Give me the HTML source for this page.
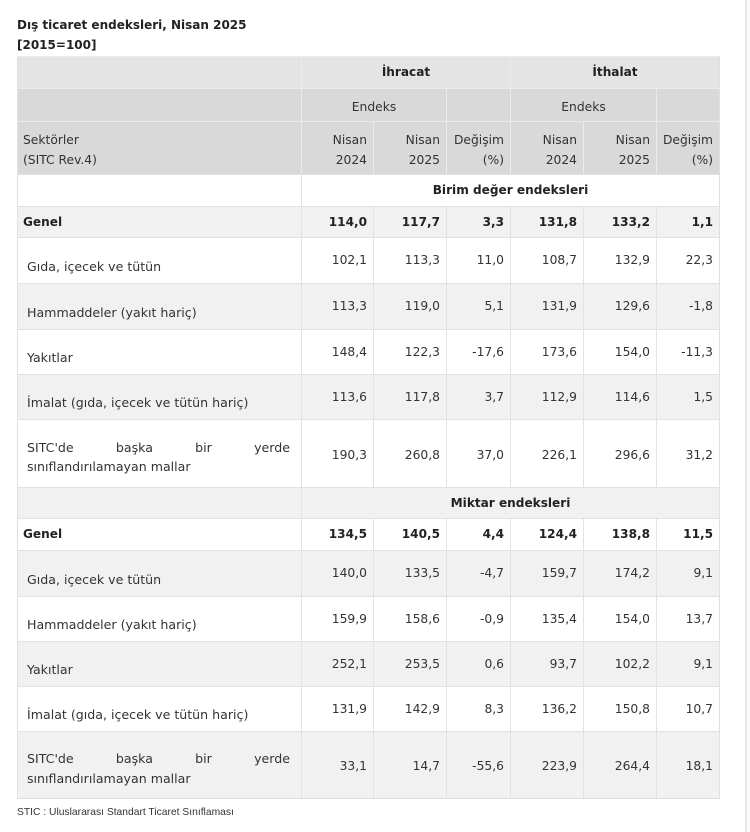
<!DOCTYPE html>
<html><head><meta charset="utf-8">
<style>
html,body{margin:0;padding:0;background:#fff;}
body{width:750px;height:832px;position:relative;overflow:hidden;font-family:"DejaVu Sans","Liberation Sans",sans-serif;color:#333;}
.title{position:absolute;left:17px;top:16px;font-weight:bold;font-size:12px;line-height:19.5px;color:#222;}
.row{position:absolute;left:17px;width:703px;box-sizing:border-box;border-left:1px solid #e0e0e0;border-right:1px solid #e0e0e0;border-top:1px solid #e2e2e2;font-size:12.3px;line-height:15px;}
.hd{border-top-color:#ebebeb;}
.c{position:absolute;top:0;bottom:0;display:flex;align-items:center;justify-content:flex-end;padding-right:6px;box-sizing:border-box;border-left:1px solid #e2e2e2;white-space:nowrap;}
.hd .c{border-left-color:#ebebeb;}
.l{position:absolute;top:0;bottom:0;left:0;width:283px;display:flex;align-items:center;padding-left:5px;box-sizing:border-box;}
.sl{padding-left:9px;padding-right:11px;padding-top:11px;font-size:12.6px;}
.c1{left:283px;width:72px}.c2{left:355px;width:73px}.c3{left:428px;width:64px}
.c4{left:492px;width:73px}.c5{left:565px;width:73px}.c6{left:638px;width:63px}
.ctr{justify-content:center;padding-right:0;}
.b{font-weight:bold;font-size:12.1px;color:#222;}
.g{background:#f1f1f1;}
.two{line-height:20px;}
.sitc{width:263px;line-height:19.5px;}
.just{text-align:justify;text-align-last:justify;}
.foot{position:absolute;left:17px;top:807px;font-family:"Liberation Sans",sans-serif;font-size:10.3px;line-height:12px;color:#333;}
.sb{position:absolute;left:745px;top:0;width:2px;height:832px;background:#e8e8e8;}
.sb2{position:absolute;left:747px;top:0;width:3px;height:832px;background:#fafafa;}
</style></head><body>
<div class="title">Dış ticaret endeksleri, Nisan 2025<br>[2015=100]</div>

<div class="row hd" style="top:56px;height:32px;background:#e4e4e4;">
  <div class="c ctr b" style="left:283px;width:209px;">İhracat</div>
  <div class="c ctr b" style="left:492px;width:209px;">İthalat</div>
</div>
<div class="row hd" style="top:88px;height:33px;background:#d9d9d9;">
  <div class="c ctr" style="left:283px;width:145px;padding-top:4px;">Endeks</div>
  <div class="c" style="left:428px;width:64px;"></div>
  <div class="c ctr" style="left:492px;width:146px;padding-top:4px;">Endeks</div>
  <div class="c" style="left:638px;width:63px;"></div>
</div>
<div class="row hd two" style="top:121px;height:53px;background:#d9d9d9;">
  <div class="l" style="padding-top:3px;"><div>Sektörler<br>(SITC Rev.4)</div></div>
  <div class="c c1" style="padding-top:3px;text-align:right;"><div>Nisan<br>2024</div></div>
  <div class="c c2" style="padding-top:3px;text-align:right;"><div>Nisan<br>2025</div></div>
  <div class="c c3" style="padding-top:3px;text-align:right;"><div>Değişim<br>(%)</div></div>
  <div class="c c4" style="padding-top:3px;text-align:right;"><div>Nisan<br>2024</div></div>
  <div class="c c5" style="padding-top:3px;text-align:right;"><div>Nisan<br>2025</div></div>
  <div class="c c6" style="padding-top:3px;text-align:right;"><div>Değişim<br>(%)</div></div>
</div>
<div class="row" style="top:174px;height:32px;">
  <div class="c ctr b" style="left:283px;width:418px;">Birim değer endeksleri</div>
</div>
<div class="row g" style="top:206px;height:31px;">
  <div class="l b">Genel</div>
  <div class="c c1 b">114,0</div><div class="c c2 b">117,7</div><div class="c c3 b">3,3</div>
  <div class="c c4 b">131,8</div><div class="c c5 b">133,2</div><div class="c c6 b">1,1</div>
</div>
<div class="row" style="top:237px;height:46px;">
  <div class="l sl">Gıda, içecek ve tütün</div>
  <div class="c c1">102,1</div><div class="c c2">113,3</div><div class="c c3">11,0</div>
  <div class="c c4">108,7</div><div class="c c5">132,9</div><div class="c c6">22,3</div>
</div>
<div class="row g" style="top:283px;height:46px;">
  <div class="l sl">Hammaddeler (yakıt hariç)</div>
  <div class="c c1">113,3</div><div class="c c2">119,0</div><div class="c c3">5,1</div>
  <div class="c c4">131,9</div><div class="c c5">129,6</div><div class="c c6">-1,8</div>
</div>
<div class="row" style="top:329px;height:45px;">
  <div class="l sl">Yakıtlar</div>
  <div class="c c1">148,4</div><div class="c c2">122,3</div><div class="c c3">-17,6</div>
  <div class="c c4">173,6</div><div class="c c5">154,0</div><div class="c c6">-11,3</div>
</div>
<div class="row g" style="top:374px;height:45px;">
  <div class="l sl">İmalat (gıda, içecek ve tütün hariç)</div>
  <div class="c c1">113,6</div><div class="c c2">117,8</div><div class="c c3">3,7</div>
  <div class="c c4">112,9</div><div class="c c5">114,6</div><div class="c c6">1,5</div>
</div>
<div class="row" style="top:419px;height:68px;">
  <div class="l sl" style="padding-top:7px;"><div class="sitc"><div class="just">SITC'de başka bir yerde</div><div>sınıflandırılamayan mallar</div></div></div>
  <div class="c c1" style="padding-top:3px;">190,3</div><div class="c c2" style="padding-top:3px;">260,8</div><div class="c c3" style="padding-top:3px;">37,0</div>
  <div class="c c4" style="padding-top:3px;">226,1</div><div class="c c5" style="padding-top:3px;">296,6</div><div class="c c6" style="padding-top:3px;">31,2</div>
</div>
<div class="row g" style="top:487px;height:31px;">
  <div class="c ctr b" style="left:283px;width:418px;">Miktar endeksleri</div>
</div>
<div class="row" style="top:518px;height:32px;">
  <div class="l b">Genel</div>
  <div class="c c1 b">134,5</div><div class="c c2 b">140,5</div><div class="c c3 b">4,4</div>
  <div class="c c4 b">124,4</div><div class="c c5 b">138,8</div><div class="c c6 b">11,5</div>
</div>
<div class="row g" style="top:550px;height:46px;">
  <div class="l sl">Gıda, içecek ve tütün</div>
  <div class="c c1">140,0</div><div class="c c2">133,5</div><div class="c c3">-4,7</div>
  <div class="c c4">159,7</div><div class="c c5">174,2</div><div class="c c6">9,1</div>
</div>
<div class="row" style="top:596px;height:45px;">
  <div class="l sl">Hammaddeler (yakıt hariç)</div>
  <div class="c c1">159,9</div><div class="c c2">158,6</div><div class="c c3">-0,9</div>
  <div class="c c4">135,4</div><div class="c c5">154,0</div><div class="c c6">13,7</div>
</div>
<div class="row g" style="top:641px;height:45px;">
  <div class="l sl">Yakıtlar</div>
  <div class="c c1">252,1</div><div class="c c2">253,5</div><div class="c c3">0,6</div>
  <div class="c c4">93,7</div><div class="c c5">102,2</div><div class="c c6">9,1</div>
</div>
<div class="row" style="top:686px;height:45px;">
  <div class="l sl">İmalat (gıda, içecek ve tütün hariç)</div>
  <div class="c c1">131,9</div><div class="c c2">142,9</div><div class="c c3">8,3</div>
  <div class="c c4">136,2</div><div class="c c5">150,8</div><div class="c c6">10,7</div>
</div>
<div class="row g" style="top:731px;height:68px;border-bottom:1px solid #e0e0e0;">
  <div class="l sl" style="padding-top:7px;"><div class="sitc"><div class="just">SITC'de başka bir yerde</div><div>sınıflandırılamayan mallar</div></div></div>
  <div class="c c1" style="padding-top:3px;">33,1</div><div class="c c2" style="padding-top:3px;">14,7</div><div class="c c3" style="padding-top:3px;">-55,6</div>
  <div class="c c4" style="padding-top:3px;">223,9</div><div class="c c5" style="padding-top:3px;">264,4</div><div class="c c6" style="padding-top:3px;">18,1</div>
</div>

<div class="foot">STIC : Uluslararası Standart Ticaret Sınıflaması</div>
<div class="sb"></div><div class="sb2"></div>
</body></html>
